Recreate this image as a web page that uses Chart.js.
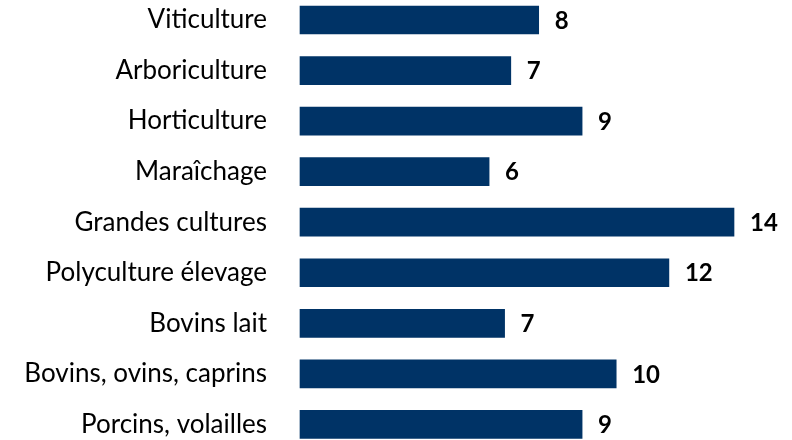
<!DOCTYPE html>
<html>
<head>
<meta charset="utf-8">
<script src="https://cdn.jsdelivr.net/npm/chart.js@4/dist/chart.umd.min.js"></script>
<style>
  body { margin: 0; background: #fff; }
  #wrap { width: 792px; height: 440px; }
</style>
</head>
<body>
<div id="wrap"><canvas id="myChart"></canvas></div>
<script>
const categories = [
    'Viticulture',
    'Arboriculture',
    'Horticulture',
    'Maraîchage',
    'Grandes cultures',
    'Polyculture élevage',
    'Bovins lait',
    'Bovins, ovins, caprins',
    'Porcins, volailles'
];
const values = [7.7, 6.8, 9.1, 6.1, 14.0, 11.9, 6.6, 10.2, 9.1];

// draws the rounded value right of each bar
const valueLabels = {
    id: 'valueLabels',
    afterDatasetsDraw(chart) {
        const ctx = chart.ctx;
        const meta = chart.getDatasetMeta(0);
        ctx.save();
        ctx.font = 'bold 24px Lato';
        ctx.fillStyle = '#000';
        ctx.textAlign = 'left';
        ctx.textBaseline = 'middle';
        meta.data.forEach(function (bar, i) {
            ctx.fillText(Math.round(values[i]), bar.x + 16, bar.y + 1);
        });
        ctx.restore();
    }
};

const ctx = document.getElementById('myChart').getContext('2d');
const myChart = new Chart(ctx, {
    type: 'bar',
    data: {
        labels: categories,
        datasets: [{
            data: values,
            backgroundColor: '#003366',
            barThickness: 28,
            clip: false
        }]
    },
    options: {
        indexAxis: 'y',
        responsive: true,
        maintainAspectRatio: false,
        animation: false,
        layout: {
            padding: { top: 20, bottom: 15, left: 0, right: 27 }
        },
        plugins: {
            legend: { display: false },
            tooltip: { enabled: false }
        },
        scales: {
            x: {
                display: false,
                min: 0,
                max: 15
            },
            y: {
                offset: false,
                grid: { display: false, drawTicks: true, tickLength: 33 },
                border: { display: false },
                ticks: {
                    padding: 0,
                    color: '#000',
                    font: { family: 'Lato', size: 26 }
                },
                afterFit: function (scale) {
                    scale.width = 300;
                }
            }
        }
    },
    plugins: [valueLabels]
});
</script>
</body>
</html>
